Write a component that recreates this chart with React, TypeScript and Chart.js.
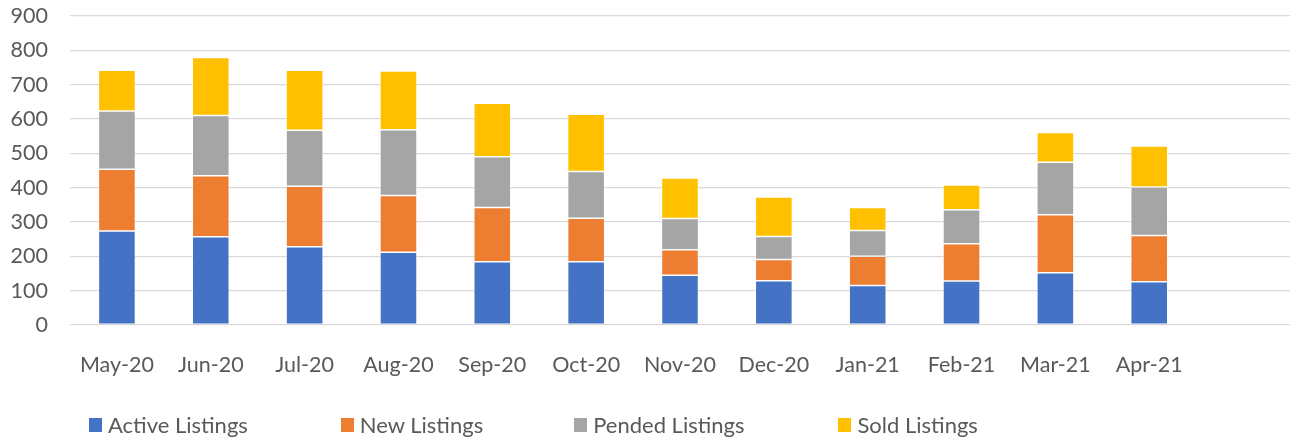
import React, { useEffect, useRef } from "react";
import { Chart, registerables } from "chart.js";

Chart.register(...registerables);

const months = ["May-20", "Jun-20", "Jul-20", "Aug-20", "Sep-20", "Oct-20", "Nov-20", "Dec-20", "Jan-21", "Feb-21", "Mar-21", "Apr-21"];
const categoryLabels = [...months, ""];

const activeListings = [274, 257, 228, 212, 184, 184, 145, 129, 115, 128, 152, 126];
const newListings = [180, 178, 176, 165, 158, 127, 74, 62, 85, 109, 169, 135];
const pendedListings = [169, 175, 163, 192, 148, 136, 91, 67, 75, 99, 153, 141];
const soldListings = [119, 169, 175, 171, 156, 167, 118, 115, 67, 72, 87, 119];

const yTicks = [0, 100, 200, 300, 400, 500, 600, 700, 800, 900];

const seriesNames = ["Active Listings", "New Listings", "Pended Listings", "Sold Listings"];
const seriesColors = ["#4472C4", "#ED7D31", "#A5A5A5", "#FFC000"];

const FONT = "Lato, 'Noto Sans', sans-serif";

const chartAreaBox = { top: 16, bottom: 325, left: 70, right: 1290 };
const legendGaps = [93, 91, 94, 0];

export default function App() {
  const canvasRef = useRef<HTMLCanvasElement>(null);

  useEffect(() => {
    if (!canvasRef.current) return;
    const seriesData = [activeListings, newListings, pendedListings, soldListings];
    const chart = new Chart(canvasRef.current, {
      type: "bar",
      data: {
        labels: categoryLabels,
        datasets: seriesNames.map((name, i) => ({
          label: name,
          data: seriesData[i],
          backgroundColor: seriesColors[i],
          borderColor: "rgba(255,255,255,0.7)",
          borderWidth: 0.75,
          borderSkipped: false,
          barPercentage: 0.395,
          categoryPercentage: 1,
        })),
      },
      options: {
        animation: false,
        responsive: false,
        maintainAspectRatio: false,
        layout: { padding: { left: 0, right: 1292 - chartAreaBox.right, top: chartAreaBox.top, bottom: 0 } },
        plugins: {
          legend: { display: false },
          tooltip: { enabled: false },
        },
        scales: {
          x: {
            stacked: true,
            grid: { display: false },
            border: { display: false },
            ticks: {
              color: "#595959",
              font: { family: FONT, size: 21.5 },
              padding: 19,
              maxRotation: 0,
              autoSkip: false,
            },
            afterFit: (scale: any) => {
              scale.height = 442 - chartAreaBox.bottom;
            },
          },
          y: {
            stacked: true,
            min: 0,
            max: 900,
            afterBuildTicks: (scale: any) => {
              scale.ticks = yTicks.map((v) => ({ value: v }));
            },
            grid: { color: "#D9D9D9", lineWidth: 1.3, drawTicks: false },
            border: { display: false },
            ticks: {
              color: "#595959",
              font: { family: FONT, size: 21.5 },
              padding: 22,
            },
            afterFit: (scale: any) => {
              scale.width = chartAreaBox.left;
              scale.paddingTop = 0;
              scale.paddingBottom = 0;
            },
          },
        },
      },
    });
    return () => chart.destroy();
  }, []);

  return (
    <div style={{ position: "fixed", left: 0, top: 0, width: 1292, height: 442, background: "#fff" }}>
      <canvas ref={canvasRef} width={1292} height={442} style={{ position: "absolute", left: 0, top: 0 }} />
      <div
        style={{
          position: "absolute",
          left: 89,
          top: 411,
          display: "flex",
          alignItems: "center",
          fontFamily: FONT,
          fontSize: 22,
          color: "#595959",
          whiteSpace: "nowrap",
        }}
      >
        {seriesNames.map((name, i) => (
          <div key={name} style={{ display: "flex", alignItems: "center", marginRight: legendGaps[i] }}>
            <span style={{ display: "inline-block", width: 13, height: 14, background: seriesColors[i], marginRight: 6 }} />
            <span>{name}</span>
          </div>
        ))}
      </div>
    </div>
  );
}
